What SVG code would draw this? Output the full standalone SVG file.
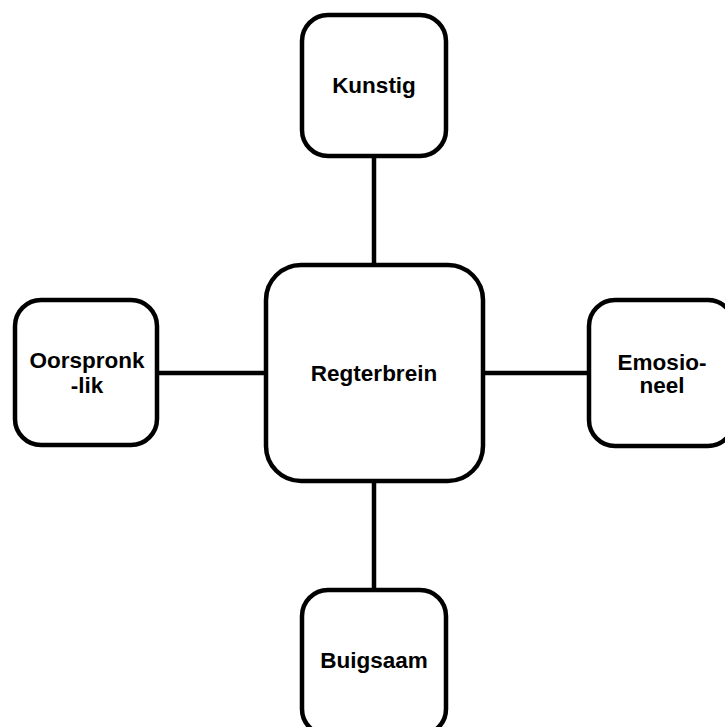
<svg xmlns="http://www.w3.org/2000/svg" width="725" height="727" viewBox="0 0 725 727">
<style>
.box{fill:#fff;stroke:#000;stroke-width:4.5}
.lbl{font-family:"Liberation Sans",Arial,sans-serif;font-weight:bold;font-size:22.5px;fill:#000;text-anchor:middle}
.con{stroke:#000;stroke-width:4.5;fill:none}
</style>
<rect width="725" height="727" fill="#fff"/>
<g id="connectors">
<line class="con" x1="374" y1="156" x2="374" y2="265"/>
<line class="con" x1="374" y1="481" x2="374" y2="590"/>
<line class="con" x1="157" y1="373" x2="266" y2="373"/>
<line class="con" x1="483" y1="373" x2="589" y2="373"/>
</g>
<g id="center">
<rect class="box" x="266" y="265" width="217" height="216" rx="35"/>
<text class="lbl" x="374" y="381">Regterbrein</text>
</g>
<g id="top">
<rect class="box" x="302" y="15" width="144" height="141" rx="26"/>
<text class="lbl" x="374" y="93">Kunstig</text>
</g>
<g id="left">
<rect class="box" x="15" y="300" width="142" height="145" rx="26"/>
<text class="lbl" x="87" y="368">Oorspronk</text>
<text class="lbl" x="87" y="393">-lik</text>
</g>
<g id="right">
<rect class="box" x="589" y="300" width="145" height="146" rx="26"/>
<text class="lbl" x="662" y="370">Emosio-</text>
<text class="lbl" x="662" y="393">neel</text>
</g>
<g id="bottom">
<rect class="box" x="302" y="590" width="144" height="145" rx="26"/>
<text class="lbl" x="374" y="668">Buigsaam</text>
</g>
</svg>
